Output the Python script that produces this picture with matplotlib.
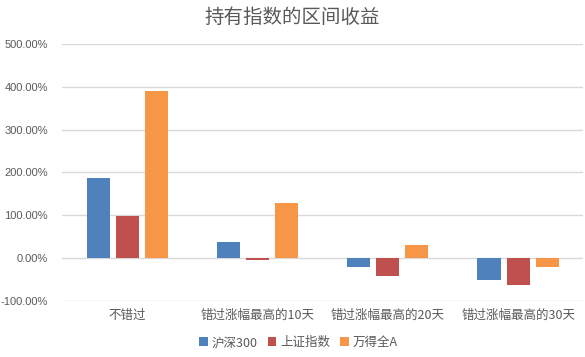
import matplotlib
matplotlib.use("Agg")
import matplotlib.pyplot as plt
import numpy as np
from matplotlib.ticker import FuncFormatter

plt.rcParams['font.family'] = ['Noto Sans CJK SC', 'DejaVu Sans']

categories = ["不错过", "错过涨幅最高的10天", "错过涨幅最高的20天", "错过涨幅最高的30天"]
series_names = ["沪深300", "上证指数", "万得全A"]
hs300 = [187.6, 38.0, -20.0, -50.0]
szzs = [98.8, -3.5, -41.0, -62.0]
wdqa = [391.0, 129.0, 31.0, -20.0]
colors = ["#4F81BD", "#C0504D", "#F79646"]
yticks = [-100, 0, 100, 200, 300, 400, 500]

fig = plt.figure(figsize=(5.85, 3.57), dpi=100)
ax = fig.add_axes([0.106, 0.157, 0.891, 0.72])

x = np.arange(len(categories))
width = 0.177
step = 0.223
for i, (vals, name, c) in enumerate(zip([hs300, szzs, wdqa], series_names, colors)):
    ax.bar(x + (i - 1) * step, vals, width, color=c, label=name, zorder=3)

ax.set_xlim(-0.5, len(categories) - 0.5)
ax.set_ylim(-100, 500)
ax.set_yticks(yticks)
ax.yaxis.set_major_formatter(FuncFormatter(lambda v, p: f"{v:.2f}%"))
ax.grid(axis='y', color='#D9D9D9', linewidth=1, zorder=0)
ax.set_xticks(x)
ax.set_xticklabels(categories)
for s in ax.spines.values():
    s.set_visible(False)
ax.tick_params(axis='both', length=0, colors='#595959', labelsize=9)
ax.tick_params(axis='x', pad=6)
ax.tick_params(axis='y', pad=10, labelsize=8)
for lab in ax.get_yticklabels():
    lab.set_fontfamily(['Liberation Sans', 'DejaVu Sans'])

fig.text(0.5, 0.95, "持有指数的区间收益", ha='center', va='center', fontsize=14, color='#595959')
fig.legend(loc='center', bbox_to_anchor=(0.51, 0.04), ncol=3, frameon=False,
           fontsize=9, labelcolor='#595959', handlelength=0.7, handleheight=0.7,
           handletextpad=0.3, columnspacing=0.8)

fig.savefig("out.png", dpi=100)
